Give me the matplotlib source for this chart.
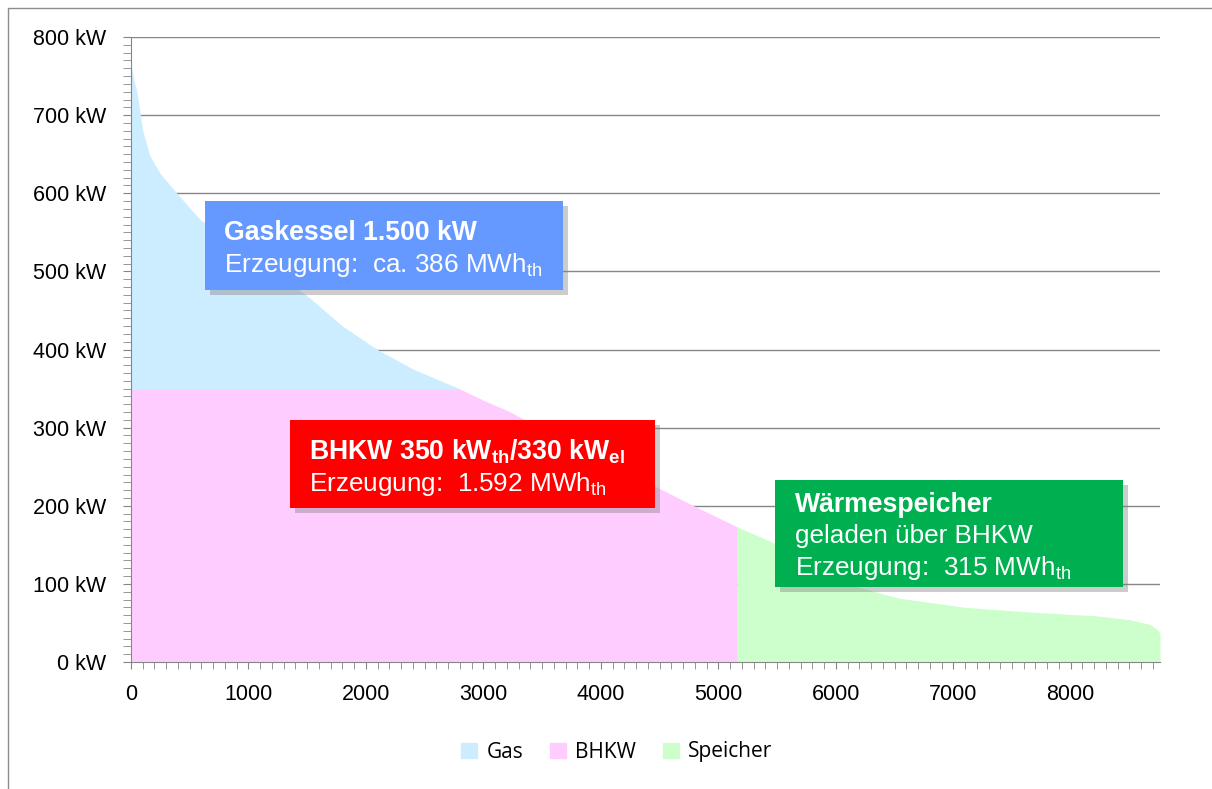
import numpy as np
import matplotlib
matplotlib.use("Agg")
import matplotlib.pyplot as plt
from matplotlib.patches import Rectangle, Patch
from matplotlib.ticker import MultipleLocator, FuncFormatter

plt.rcParams['font.family'] = ['Liberation Sans', 'DejaVu Sans']
plt.rcParams['mathtext.fontset'] = 'custom'
plt.rcParams['mathtext.rm'] = 'Liberation Sans'
plt.rcParams['mathtext.bf'] = 'Liberation Sans:bold'

# Jahresdauerlinie (Stunden -> Waermeleistung kW)
hours = np.array([0, 25, 50, 100, 160, 250, 390, 590, 800, 1000, 1200, 1435, 1545,
                  1800, 2097, 2400, 2793, 3000, 3217, 3500, 4000, 4500, 4830, 5161,
                  5450, 5800, 6188, 6528, 7097, 7657, 8226, 8506, 8676, 8735, 8760])
load_kw = np.array([765, 745, 730, 680, 648, 625, 600, 566, 545, 523, 502, 476, 463,
                    430, 400, 375, 350, 335, 321, 298, 259, 222, 197, 173,
                    154, 124, 96, 82, 70, 64, 59, 54, 48, 42, 36])
bhkw_kw = 350
storage_start = 5161

series_names = ['Gas', 'BHKW', 'Speicher']
series_colors = ['#CCECFF', '#FFCCFF', '#CCFFCC']

W, H = 1212, 789
fig = plt.figure(figsize=(W / 100, H / 100), dpi=100)
ax = fig.add_axes([131 / W, 1 - 662 / H, (1160 - 131) / W, (662 - 37) / H])

ax.fill_between(hours, bhkw_kw, load_kw, where=load_kw >= bhkw_kw,
                color=series_colors[0], lw=0, zorder=1)
ax.fill_between(hours, 0, np.minimum(load_kw, bhkw_kw), where=hours <= storage_start,
                color=series_colors[1], lw=0, zorder=1)
ax.fill_between(hours, 0, load_kw, where=hours >= storage_start,
                color=series_colors[2], lw=0, zorder=1)

ax.set_xlim(0, 8760)
ax.set_ylim(0, 800)
grid_c = '#868686'
ax.yaxis.set_major_locator(MultipleLocator(100))
ax.yaxis.set_minor_locator(MultipleLocator(10))
ax.xaxis.set_major_locator(MultipleLocator(1000))
ax.xaxis.set_minor_locator(MultipleLocator(100))
ax.yaxis.set_major_formatter(FuncFormatter(lambda v, p: f'{int(v)} kW'))
ax.grid(axis='y', which='major', color=grid_c, lw=1, zorder=0)
ax.set_axisbelow(True)
for s in ['top', 'right']:
    ax.spines[s].set_visible(False)
for s in ['left', 'bottom']:
    ax.spines[s].set_color(grid_c)
    ax.spines[s].set_zorder(3)
ax.tick_params(axis='y', which='both', length=6, color=grid_c, labelsize=15.5, pad=12)
ax.tick_params(axis='x', which='both', length=5, color=grid_c, labelsize=15.5, pad=11)

# Rahmen
fig.add_artist(Rectangle((8 / W, -0.05), 1.1, 1 - 8 / H + 0.05, transform=fig.transFigure,
                         fill=False, ec='#8C8C8C', lw=1, zorder=0))


def box(x0, y0, x1, y1, color, lines):
    fig.add_artist(Rectangle(((x0 + 5) / W, 1 - (y1 + 5) / H), (x1 - x0) / W, (y1 - y0) / H,
                             transform=fig.transFigure, color='#808080', alpha=0.4, lw=0, zorder=4))
    fig.add_artist(Rectangle((x0 / W, 1 - y1 / H), (x1 - x0) / W, (y1 - y0) / H,
                             transform=fig.transFigure, color=color, lw=0, zorder=5))
    for (tx, ty, txt, bold) in lines:
        fig.text(tx / W, 1 - ty / H, txt, color='white', fontsize=19.2 if bold else 18.8,
                 fontweight='bold' if bold else 'normal', va='baseline', ha='left', zorder=6)


box(205, 201, 563, 290, '#6699FF', [
    (224, 240, 'Gaskessel 1.500 kW', True),
    (224, 272, r'Erzeugung:  ca. 386 MWh$_\mathrm{th}$', False)])
box(290, 420, 655, 508, '#FF0000', [
    (309, 459, r'BHKW 350 kW$_\mathbf{th}$/330 kW$_\mathbf{el}$', True),
    (309, 491, r'Erzeugung:  1.592 MWh$_\mathrm{th}$', False)])
box(775, 480, 1123, 587, '#00B050', [
    (795, 512, 'Wärmespeicher', True),
    (795, 543, 'geladen über BHKW', False),
    (795, 575, r'Erzeugung:  315 MWh$_\mathrm{th}$', False)])

handles = [Patch(color=c, label=n) for n, c in zip(series_names, series_colors)]
fig.legend(handles=handles, loc='center', bbox_to_anchor=(617 / W, 1 - 752 / H), ncol=3,
           frameon=False, handlelength=0.75, handleheight=0.75, handletextpad=0.45,
           columnspacing=1.3, prop={'family': 'Open Sans', 'size': 15})

fig.savefig('out.png', dpi=100)
